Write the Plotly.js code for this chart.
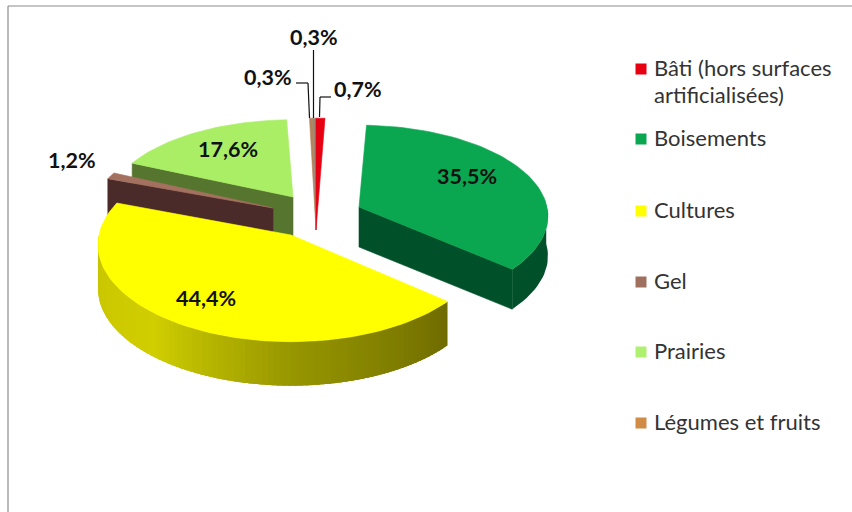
<!DOCTYPE html>
<html>
<head>
<meta charset="utf-8">
<script src="https://cdn.plot.ly/plotly-3.0.1.min.js"></script>
<style>html,body{margin:0;padding:0;background:#fff}#chart{width:852px;height:512px}</style>
</head>
<body>
<div id="chart"></div>
<script>
// ---- data ----
var categories = ["Bâti (hors surfaces\nartificialisées)", "Boisements", "Cultures", "Gel", "Prairies", "Légumes et fruits", ""];
var shares     = [0.7, 35.5, 44.4, 1.2, 17.6, 0.3, 0.3];
var legendCount = 6;

// ---- styling ----
var topColors  = ["#e60012", "#0aa650", "#ffff00", "#a4705f", "#aaee66", "#b5835a", "#9a8672"];
var swatches   = ["#e60012", "#0aa650", "#ffff00", "#a0705f", "#b0f070", "#d08b45"];
var wallColors = [null, "#00512a", null, "#4a2b2a", "#56752f", null, null];
// apex position, radii and wall height of each exploded slice in the oblique view
var geo = [
  {ax:316, ay:230, rx:225, ry:123, d:0},
  {ax:359, ay:207, rx:188, ry:90,  d:40},
  {ax:291, ay:235, rx:192, ry:96,  d:44},
  {ax:273, ay:208, rx:182, ry:88,  d:40},
  {ax:293, ay:197, rx:184, ry:85,  d:40},
  {ax:316, ay:230, rx:190, ry:123, d:0},
  {ax:316, ay:230, rx:190, ry:123, d:0}
];
var persp = 0.1;
var drawOrder = [4, 3, 5, 6, 0, 1, 2];
var labelPos = [[358,89],[467,176],[206,298],[72,160],[228,149],[268,77],[314,37]];
var legendY = [69,139,211,282,352,423];
var legendTextX = 651.5, legendTextDy = -1.5;
var legendLineGap = 27;
// gradient stops along the front wall of the big slice
var wallRamp = [[0,[112,108,0]],[0.35,[150,150,0]],[0.65,[208,206,0]],[1,[200,196,0]]];

// ---- geometry from the values ----
var total = shares.reduce(function(a,b){return a+b;},0), run = 0;
var starts = [], ends = [];
shares.forEach(function(v){ starts.push(run/total*360); run += v; ends.push(run/total*360); });

function pt(i, deg, drop){
  var t = deg*Math.PI/180, X = Math.sin(t), Y = Math.cos(t), w = 1 + persp*Y, g = geo[i];
  return [g.ax + g.rx*X/w, g.ay - g.ry*Y/w + (drop||0)];
}
function arc(i, a, b, drop){
  var out = [], n = Math.max(2, Math.ceil(Math.abs(b-a)/2));
  for (var k=0;k<=n;k++) out.push(pt(i, a+(b-a)*k/n, drop));
  return out;
}
var traces = [];
function poly(points, color, lw){
  var xs = points.map(function(p){return p[0];}), ys = points.map(function(p){return p[1];});
  xs.push(xs[0]); ys.push(ys[0]);
  traces.push({type:"scatter", mode:"lines", x:xs, y:ys, fill:"toself", fillcolor:color,
    line:{color:color, width:lw===undefined?0.6:lw}, hoverinfo:"skip", showlegend:false});
}
function apexPt(i, drop){ return [geo[i].ax, geo[i].ay + (drop||0)]; }
function radialWall(i, deg){
  var c = wallColors[i], d = geo[i].d;
  poly([apexPt(i), pt(i,deg), pt(i,deg,d), apexPt(i,d)], c);
}
function outerWall(i, a, b, colorFn){
  var d = geo[i].d, steps = colorFn ? 90 : 1, h = (b-a)/steps;
  for (var s=0;s<steps;s++){
    var p = a+h*s, q = (colorFn && s<steps-1) ? p+h*2.5 : p+h;
    poly(arc(i,p,q).concat(arc(i,q,p,d)), colorFn ? colorFn(s/(steps-1)) : wallColors[i], 0);
  }
}
function ramp(f){
  for (var k=1;k<wallRamp.length;k++){
    if (f <= wallRamp[k][0]){
      var a = wallRamp[k-1], b = wallRamp[k], u = (f-a[0])/(b[0]-a[0]);
      return "rgb(" + [0,1,2].map(function(c){return Math.round(a[1][c]+(b[1][c]-a[1][c])*u);}).join(",") + ")";
    }
  }
  return "rgb(200,196,0)";
}
drawOrder.forEach(function(i){
  if (i === 1){ radialWall(1, ends[1]); outerWall(1, 88, ends[1]); }
  if (i === 2){ outerWall(2, ends[1], 270, ramp); }
  if (i === 3 || i === 4){ radialWall(i, starts[i]); }
  poly([apexPt(i)].concat(arc(i, starts[i], ends[i])), topColors[i]);
});

// legend swatches
traces.push({type:"scatter", mode:"markers",
  x: swatches.map(function(){return 641;}), y: legendY,
  marker:{symbol:"square", size:11, color:swatches, line:{width:0}},
  hoverinfo:"skip", showlegend:false});

// ---- text ----
var annotations = [];
function fmt(v){ return v.toFixed(1).replace(".", ",") + "%"; }
shares.forEach(function(v,i){
  annotations.push({x:labelPos[i][0], y:labelPos[i][1], xref:"x", yref:"y", text:"<b>"+fmt(v)+"</b>",
    showarrow:false, xanchor:"center", yanchor:"middle",
    font:{family:"Lato, sans-serif", size:21.5, color:"#111"}});
});
categories.slice(0,legendCount).forEach(function(name,i){
  name.split("\n").forEach(function(line,j){
    annotations.push({x:legendTextX, y:legendY[i]+legendTextDy+j*legendLineGap, xref:"x", yref:"y", text:line,
      showarrow:false, xanchor:"left", yanchor:"middle",
      font:{family:"Lato, sans-serif", size:22, color:"#333"}});
  });
});

function seg(x0,y0,x1,y1,c){ return {type:"line",xref:"x",yref:"y",x0:x0,y0:y0,x1:x1,y1:y1,line:{color:c,width:1.2}}; }
var layout = {
  width:852, height:512, margin:{l:0,r:0,t:0,b:0}, paper_bgcolor:"#fff", plot_bgcolor:"#fff",
  showlegend:false, hovermode:false,
  xaxis:{range:[0,852], visible:false, fixedrange:true},
  yaxis:{range:[512,0], visible:false, fixedrange:true},
  annotations:annotations,
  shapes:[
    seg(8,6,852,6,"#8c8c8c"), seg(8,6,8,512,"#8c8c8c"),
    seg(313.5,50,313.5,118,"#111"),
    seg(296,83,308,83,"#111"), seg(308,83,309.5,118,"#111"),
    seg(331,97,320,97,"#111"), seg(320,97,319.5,117,"#111")
  ]
};
Plotly.newPlot("chart", traces, layout, {displayModeBar:false, staticPlot:true});
</script>
</body>
</html>
